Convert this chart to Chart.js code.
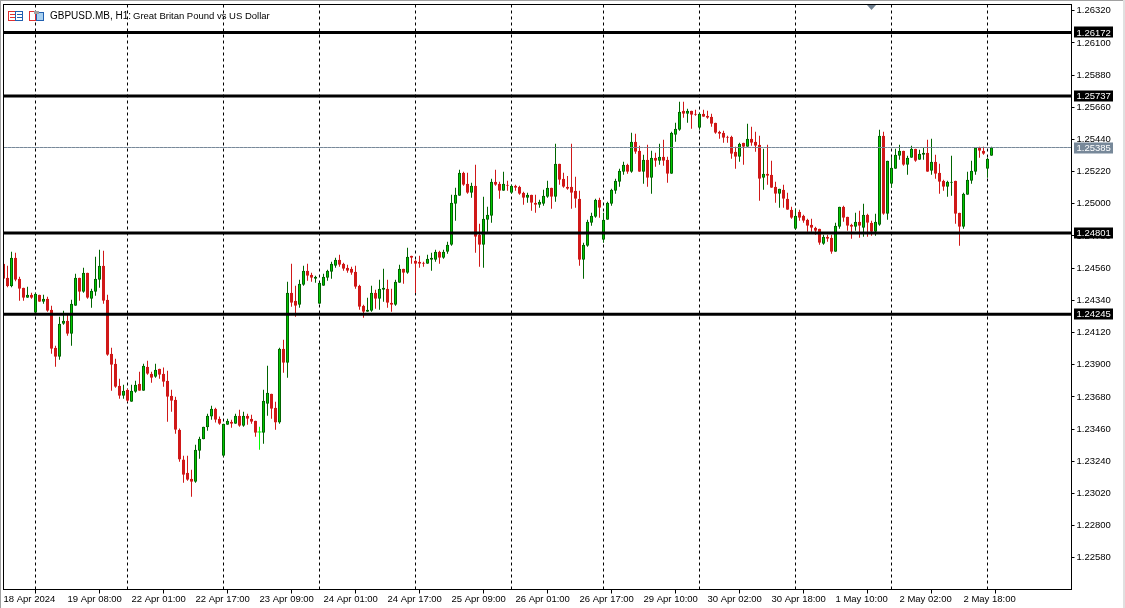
<!DOCTYPE html>
<html>
<head>
<meta charset="utf-8">
<title>GBPUSD.MB, H1</title>
<script src="https://cdn.jsdelivr.net/npm/chart.js@4/dist/chart.umd.min.js"></script>
<style>
  body { margin: 0; background: #fff; }
  canvas { display: block; }
</style>
</head>
<body>
<canvas id="myChart" width="1125" height="608"></canvas>
<script>
// prices in points (1.24591 = 124591), one entry per H1 bar
const opens = [
  124591,124495,124436,124632,124488,124426,124358,124379,124256,124379,
  124331,124351,124276,124016,123955,124180,124201,124112,124303,124495,
  124399,124529,124351,124399,124481,124577,124344,123975,123907,123756,
  123688,123729,123647,123715,123770,123722,123886,123838,123818,123873,
  123838,123791,123688,123661,123456,123251,123162,123121,123100,123312,
  123390,123472,123545,123599,123531,123278,123490,123510,123497,123551,
  123483,123551,123531,123517,123440,123435,123633,123702,123606,123504,
  124009,123914,124392,124338,124310,124447,124543,124515,124488,124317,
  124440,124495,124536,124577,124618,124591,124563,124556,124536,124440,
  124303,124262,124269,124392,124351,124413,124420,124324,124310,124461,
  124556,124529,124645,124611,124604,124597,124591,124618,124618,124673,
  124631,124672,124720,125000,125055,125212,125137,125075,125123,124788,
  124720,124891,124918,125150,125137,125089,125130,125075,125123,125116,
  125075,125041,125062,125007,124993,125000,125048,125109,125048,125274,
  125171,125116,125116,125089,125034,124617,124713,124870,124911,125027,
  124755,124891,125001,125090,125151,125220,125267,125220,125425,125363,
  125220,125302,125179,125315,125295,125322,125302,125206,125473,125507,
  125637,125616,125637,125616,125520,125616,125602,125596,125555,125493,
  125486,125459,125459,125356,125322,125418,125390,125445,125424,125404,
  125178,125206,125199,125117,125069,125096,125035,124959,124830,124946,
  124918,124891,124857,124836,124830,124727,124775,124768,124672,124843,
  124980,124912,124857,124843,124878,124837,124925,124871,124809,124857,
  125466,124932,125137,125240,125329,125363,125267,125315,125377,125302,
  125336,125349,125226,125288,125213,125158,125117,125144,125158,124939,
  124843,125062,125158,125219,125384,125363,125240,125329
]
const highs = [
  124604,124577,124673,124666,124502,124426,124433,124392,124392,124379,
  124379,124365,124303,124030,124228,124269,124242,124344,124522,124495,
  124563,124529,124420,124638,124686,124679,124379,124016,123941,123804,
  123763,123736,123763,123791,123852,123907,123927,123852,123907,123873,
  123880,123859,123729,123681,123463,123278,123278,123182,123353,123408,
  123476,123565,123620,123606,123545,123497,123531,123524,123565,123592,
  123579,123565,123558,123517,123476,123729,123893,123702,123647,124016,
  124071,124467,124591,124440,124481,124577,124591,124529,124508,124461,
  124522,124550,124604,124632,124652,124597,124584,124570,124577,124447,
  124310,124358,124440,124413,124481,124556,124481,124420,124481,124584,
  124556,124700,124645,124618,124645,124604,124652,124666,124686,124679,
  124686,124740,125062,125109,125233,125219,125212,125144,125267,124863,
  125048,124980,125171,125233,125150,125219,125157,125130,125130,125123,
  125082,125075,125062,125062,125027,125096,125157,125109,125410,125274,
  125212,125191,125410,125185,125089,124733,124891,124939,125034,125041,
  124939,125014,125103,125172,125240,125288,125274,125486,125479,125397,
  125336,125404,125363,125349,125411,125438,125322,125493,125555,125698,
  125698,125650,125637,125643,125623,125643,125637,125616,125555,125500,
  125500,125466,125466,125390,125418,125418,125547,125527,125493,125465,
  125377,125404,125294,125151,125103,125130,125076,124980,124966,124959,
  124925,124898,124898,124843,124830,124789,124789,124789,124871,124980,
  124987,124912,124864,124939,124953,125001,124932,124884,124932,125507,
  125493,125295,125322,125377,125404,125363,125329,125397,125377,125370,
  125384,125438,125445,125336,125274,125165,125158,125329,125158,124939,
  125076,125219,125295,125384,125390,125390,125315,125390
]
const lows = [
  124481,124429,124429,124470,124338,124338,124358,124351,124249,124331,
  124317,124262,123975,123886,123934,124173,124098,124030,124303,124338,
  124392,124351,124290,124372,124426,124317,123962,123722,123743,123668,
  123668,123647,123647,123709,123722,123722,123832,123777,123811,123804,
  123750,123510,123579,123428,123237,123093,123107,122998,123093,123257,
  123390,123449,123524,123504,123490,123271,123490,123469,123497,123476,
  123476,123490,123497,123408,123319,123360,123551,123531,123456,123497,
  123845,123811,124297,124228,124290,124440,124474,124467,124461,124317,
  124440,124474,124488,124563,124570,124543,124529,124515,124420,124276,
  124221,124262,124262,124283,124276,124331,124290,124262,124303,124461,
  124454,124522,124591,124390,124563,124570,124591,124543,124604,124591,
  124624,124658,124713,124884,125055,125123,125068,125041,124665,124569,
  124563,124809,124870,125123,125034,125089,125089,125068,125089,125062,
  124993,125007,124952,124939,124973,124986,125041,124966,125014,125130,
  125109,125096,124966,124973,124576,124487,124706,124850,124904,124905,
  124734,124891,124987,125069,125117,125199,125206,125213,125343,125220,
  125138,125117,125069,125254,125267,125261,125144,125206,125425,125500,
  125589,125555,125514,125602,125507,125596,125582,125527,125479,125445,
  125418,125418,125308,125240,125288,125267,125390,125397,125356,125021,
  125096,125130,125110,125007,124973,124973,124959,124898,124823,124884,
  124871,124809,124809,124789,124720,124720,124741,124659,124672,124830,
  124877,124816,124761,124816,124768,124775,124775,124782,124782,124850,
  124925,124891,125110,125240,125302,125260,125199,125315,125288,125302,
  125302,125219,125199,125172,125069,125090,125049,125055,124864,124714,
  124830,125062,125137,125199,125315,125336,125178,125329
]
const closes = [
  124488,124436,124632,124481,124420,124358,124379,124358,124385,124331,
  124351,124269,124009,123955,124180,124201,124112,124317,124495,124399,
  124529,124358,124406,124488,124577,124338,123968,123900,123750,123688,
  123722,123654,123722,123763,123722,123893,123838,123811,123866,123832,
  123784,123681,123654,123456,123251,123148,123114,123100,123319,123394,
  123476,123551,123599,123524,123497,123497,123517,123497,123551,123483,
  123551,123531,123510,123435,123440,123654,123709,123599,123504,124009,
  123914,124392,124324,124303,124454,124543,124508,124495,124502,124461,
  124502,124543,124591,124618,124584,124556,124543,124529,124433,124297,
  124262,124276,124392,124351,124420,124426,124324,124310,124467,124556,
  124529,124638,124632,124591,124591,124591,124625,124632,124673,124632,
  124672,124720,125007,125062,125212,125130,125075,125123,124774,124720,
  124898,124925,125150,125130,125089,125137,125123,125123,125109,125068,
  125041,125062,125007,124993,125014,125055,125109,125048,125274,125164,
  125116,125103,125075,125034,124617,124720,124877,124918,125027,124973,
  124891,125008,125096,125158,125226,125267,125220,125425,125356,125220,
  125302,125179,125315,125295,125322,125295,125206,125486,125514,125630,
  125616,125637,125609,125609,125616,125596,125589,125548,125486,125479,
  125452,125452,125343,125322,125411,125390,125445,125418,125397,125171,
  125206,125192,125110,125069,125103,125035,124959,124905,124918,124905,
  124884,124850,124836,124816,124734,124775,124761,124672,124850,124980,
  124905,124850,124843,124878,124850,124925,124871,124809,124878,125466,
  124932,125295,125247,125336,125363,125267,125315,125377,125295,125343,
  125349,125219,125288,125206,125151,125117,125151,125151,124932,124843,
  125069,125165,125226,125384,125363,125343,125308,125385
]

const timeLabels = ['18 Apr 2024','19 Apr 08:00','22 Apr 01:00','22 Apr 17:00','23 Apr 09:00','24 Apr 01:00',
  '24 Apr 17:00','25 Apr 09:00','26 Apr 01:00','26 Apr 17:00','29 Apr 10:00','30 Apr 02:00',
  '30 Apr 18:00','1 May 10:00','2 May 02:00','2 May 18:00']
const priceTicks = [1.2632,1.261,1.2588,1.2566,1.2544,1.2522,1.25,1.2478,1.2456,1.2434,1.2412,1.239,1.2368,1.2346,1.2324,1.2302,1.228,1.2258]
const levels = [1.26172,1.25737,1.24801,1.24245]
const lastPrice = 1.25385
const dayStarts = [8,31,55,79,103,127,150,174,198,222,246] // bars with a dashed separator

const slots = 268 // bars plus the empty space on the right
const labels = Array.from({length: slots}, (_, i) => (i % 16 === 0 && timeLabels[i / 16]) || '')

const BULL = '#00c800', BULL_EDGE = '#006400', BEAR = '#d01818'
const FONT = '"Liberation Sans"'
const isBull = (o, c) => c >= o
const wickColors = opens.map((o, i) => o === closes[i] ? '#00ff00' : (isBull(o, closes[i]) ? BULL_EDGE : BEAR))

const levelDataset = (v, color, width) => ({
  type: 'line',
  data: labels.map(() => v),
  borderColor: color,
  borderWidth: width,
  pointRadius: 0,
  order: 1,
})

const noPadding = (axis) => {
  axis.paddingLeft = axis.paddingRight = axis.paddingTop = axis.paddingBottom = 0
}

const chrome = {
  id: 'chrome',
  beforeDatasetsDraw(chart) {
    const {ctx, chartArea, scales} = chart
    ctx.save()
    ctx.strokeStyle = '#000'
    ctx.lineWidth = 1
    ctx.setLineDash([3, 3])
    dayStarts.forEach((k) => {
      const x = scales.x.getPixelForValue(k)
      ctx.beginPath()
      ctx.moveTo(x, chartArea.top)
      ctx.lineTo(x, chartArea.bottom)
      ctx.stroke()
    })
    ctx.restore()
  },
  afterDraw(chart) {
    const {ctx, chartArea, scales} = chart
    ctx.save()
    // window and plot frame
    ctx.strokeStyle = '#000'
    ctx.lineWidth = 1
    ctx.strokeRect(chartArea.left, chartArea.top, chartArea.right - chartArea.left, chartArea.bottom - chartArea.top)
    ctx.fillStyle = '#a0a0a0'
    ctx.fillRect(0, 0, 1125, 1)
    ctx.fillRect(0, 0, 1, 608)
    ctx.fillStyle = '#e0e0e0'
    ctx.fillRect(1123, 0, 2, 608)

    // price boxes on the axis
    ctx.font = '9.5px ' + FONT
    ctx.textBaseline = 'middle'
    ctx.textAlign = 'left'
    const box = (v, bg) => {
      const y = scales.y.getPixelForValue(v)
      ctx.fillStyle = bg
      ctx.fillRect(1074, Math.round(y) - 5.5, 39, 11)
      ctx.fillStyle = '#fff'
      ctx.fillText(v.toFixed(5), 1076.5, y + 0.5)
    }
    levels.forEach((v) => box(v, '#000'))
    box(lastPrice, '#778899')

    // heading
    ctx.fillStyle = '#000'
    ctx.font = '10px ' + FONT
    ctx.fillText('GBPUSD.MB, H1:', 50, 16.5)
    ctx.font = '9.5px ' + FONT
    ctx.fillText('Great Britan Pound vs US Dollar', 133, 16.5)

    // the two little toolbar icons
    ctx.lineWidth = 1
    ctx.fillStyle = '#fff'
    ctx.strokeStyle = '#e03030'
    ctx.strokeRect(8.5, 11.5, 7, 9)
    ctx.strokeStyle = '#2060b0'
    ctx.strokeRect(15.5, 11.5, 7, 9)
    ctx.strokeStyle = '#e03030'
    for (const y of [14.5, 17.5]) { ctx.beginPath(); ctx.moveTo(10, y); ctx.lineTo(15, y); ctx.stroke() }
    ctx.strokeStyle = '#2060b0'
    for (const y of [14.5, 17.5]) { ctx.beginPath(); ctx.moveTo(17, y); ctx.lineTo(22, y); ctx.stroke() }
    ctx.strokeStyle = '#e03030'
    ctx.strokeRect(29.5, 11.5, 6, 9)
    ctx.fillStyle = '#a8d0f0'
    ctx.fillRect(37, 13, 6, 7)
    ctx.strokeStyle = '#2060b0'
    ctx.strokeRect(36.5, 12.5, 7, 8)
    ctx.fillStyle = '#a0a0a0'
    ctx.fillRect(34, 11, 5, 3)

    // marker on the top edge
    ctx.fillStyle = '#708090'
    ctx.beginPath()
    ctx.moveTo(867, 5)
    ctx.lineTo(876, 5)
    ctx.lineTo(871.5, 10)
    ctx.closePath()
    ctx.fill()
    ctx.restore()
  },
}

new Chart(document.getElementById('myChart'), {
  data: {
    labels,
    datasets: [
      ...levels.map((v) => levelDataset(v, '#000', 3)),
      levelDataset(lastPrice, '#778899', 1),
      {
        // doji bars have no body, only a small cross
        type: 'line',
        data: opens.map((o, i) => (o === closes[i] ? o / 1e5 : null)),
        showLine: false,
        pointStyle: 'line',
        pointRadius: 2,
        pointBorderColor: '#00ff00',
        pointBorderWidth: 1,
        order: 2,
      },
      {
        type: 'bar',
        data: opens.map((o, i) => [o / 1e5, closes[i] / 1e5]),
        backgroundColor: opens.map((o, i) => isBull(o, closes[i]) ? BULL : BEAR),
        borderColor: opens.map((o, i) => isBull(o, closes[i]) ? BULL_EDGE : BEAR),
        borderWidth: 1,
        borderSkipped: false,
        barThickness: 3,
        inflateAmount: 0,
        grouped: false,
        order: 3,
      },
      {
        type: 'bar',
        data: lows.map((l, i) => [l / 1e5, highs[i] / 1e5]),
        backgroundColor: wickColors,
        barThickness: 1,
        inflateAmount: 0,
        grouped: false,
        order: 4,
      },
    ],
  },
  options: {
    responsive: false,
    animation: false,
    devicePixelRatio: 1,
    layout: {autoPadding: false, padding: {left: 3.5, top: 4.5, bottom: 0, right: 0}},
    plugins: {legend: {display: false}, tooltip: {enabled: false}},
    scales: {
      x: {
        type: 'category',
        offset: false,
        afterBuildTicks(axis) { axis.ticks = axis.ticks.filter((t) => labels[t.value] !== '') },
        afterFit(axis) { axis.height = 18.5; noPadding(axis) },
        grid: {drawOnChartArea: false, drawTicks: true, tickLength: 4, tickColor: '#000'},
        border: {color: '#000'},
        ticks: {
          autoSkip: false,
          maxRotation: 0,
          align: 'start',
          padding: 0,
          color: '#000',
          font: {family: FONT, size: 9.5},
          callback(v) { return this.getLabelForValue(v) },
        },
      },
      y: {
        position: 'right',
        min: 1.2632 - 578.75 / 14626,
        max: 1.2632 + 6.25 / 14626,
        afterBuildTicks(axis) { axis.ticks = priceTicks.map((value) => ({value})) },
        afterFit(axis) { axis.width = 53.5; noPadding(axis) },
        grid: {drawOnChartArea: false, drawTicks: true, tickLength: 3, tickColor: '#000'},
        border: {color: '#000'},
        ticks: {
          padding: 2,
          color: '#000',
          font: {family: FONT, size: 9.5},
          callback(v) { return v.toFixed(5) },
        },
      },
    },
  },
  plugins: [chrome],
})
</script>
</body>
</html>
